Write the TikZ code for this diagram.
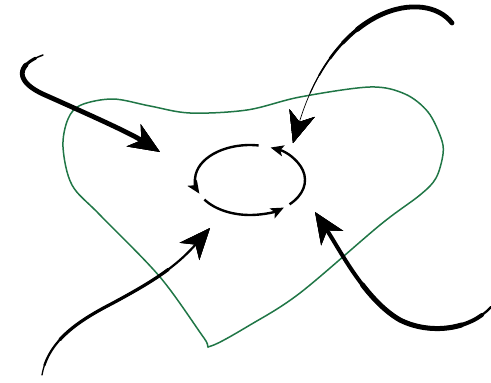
\documentclass[tikz,border=0pt]{standalone}
\usepackage{xcolor}
\usetikzlibrary{arrows.meta}

\definecolor{blobgreen}{RGB}{32,118,70}

\begin{document}
\begin{tikzpicture}[x=1bp, y=1bp,
  big tip/.style={-{Stealth[length=31bp,width=26bp,inset=9bp]}},
  loop tip/.style={-{Stealth[length=13bp,width=11bp,inset=3bp]}},
  brush/.style={line cap=round, line join=round}]

\useasboundingbox (0,0) rectangle (491,382);

% green outline
\draw[blobgreen, line width=1.5bp] plot[smooth cycle, tension=0.55] coordinates {
  (81,277) (113,283) (150,276) (190,269) (247,272) (300,285) (370,295) (405,288)
  (428,270) (441,244) (443,228) (436,204) (420,187) (380,157) (300,89)
  (250,57) (211,36) (204,44) (160,105) (100,167) (72,197) (63,235) (68,263)};

% cycle in the middle
\coordinate (centre) at (250,202);
\foreach \a/\b in {81/203, 214/308, 316/428}
  \draw[loop tip, line width=2.4bp] (centre) ++(\a:55bp and 35bp)
    arc[start angle=\a, end angle=\b, x radius=55bp, y radius=35bp];

% top left arrow
\coordinate (tl start) at (43,327);
\coordinate (tl tip) at (160,230);
\draw[big tip, brush, line width=1.5bp, dash pattern=on 60bp off 1000bp]
  (tl start) .. controls (15,317) and (15,300) .. (45,287) .. controls (90,267) and (130,249) .. (tl tip);
\draw[big tip, brush, line width=3bp, dash pattern=on 52bp off 1000bp, dash phase=1044bp]
  (tl start) .. controls (15,317) and (15,300) .. (45,287) .. controls (90,267) and (130,249) .. (tl tip);
\draw[big tip, brush, line width=4.8bp, dash pattern=on 1000bp off 20bp, dash phase=1000bp]
  (tl start) .. controls (15,317) and (15,300) .. (45,287) .. controls (90,267) and (130,249) .. (tl tip);

% top right arrow
\coordinate (tr start) at (452,359);
\coordinate (tr tip) at (293,239);
\foreach \w/\len in {4.8/105, 3.6/125, 2.6/145, 1.7/165, 1.1/185, 0.7/1000}
  \draw[big tip, brush, line width=\w bp, dash pattern=on \len bp off 1000bp]
    (tr start) .. controls (425,394) and (335,377) .. (tr tip);

% bottom left arrow
\coordinate (bl start) at (42,7);
\coordinate (bl tip) at (210,154);
\draw[big tip, brush, line width=1.3bp, dash pattern=on 20bp off 1000bp]
  (bl start) .. controls (48,42) and (80,62) .. (113,79) .. controls (150,99) and (175,114) .. (bl tip);
\draw[big tip, brush, line width=2.2bp, dash pattern=on 1000bp off 10bp, dash phase=1000bp]
  (bl start) .. controls (48,42) and (80,62) .. (113,79) .. controls (150,99) and (175,114) .. (bl tip);
\draw[big tip, brush, line width=3.2bp, dash pattern=on 130bp off 1000bp, dash phase=1090bp]
  (bl start) .. controls (48,42) and (80,62) .. (113,79) .. controls (150,99) and (175,114) .. (bl tip);

% bottom right arrow
\coordinate (br start) at (491,75);
\coordinate (br tip) at (315,170);
\draw[big tip, brush, line width=2.3bp, dash pattern=on 40bp off 1000bp]
  (br start) .. controls (470,52) and (430,47) .. (400,62) .. controls (365,82) and (340,132) .. (br tip);
\draw[big tip, brush, line width=4bp, dash pattern=on 1000bp off 12bp, dash phase=1000bp]
  (br start) .. controls (470,52) and (430,47) .. (400,62) .. controls (365,82) and (340,132) .. (br tip);
\draw[big tip, brush, line width=5bp, dash pattern=on 115bp off 1000bp, dash phase=1080bp]
  (br start) .. controls (470,52) and (430,47) .. (400,62) .. controls (365,82) and (340,132) .. (br tip);

\end{tikzpicture}
\end{document}
